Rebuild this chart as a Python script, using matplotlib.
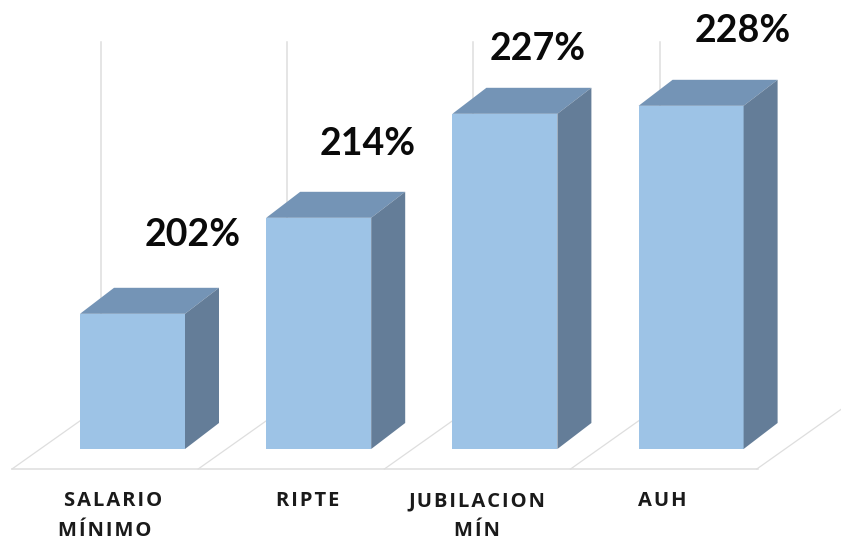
import matplotlib
matplotlib.use('Agg')
import matplotlib.pyplot as plt
from matplotlib.patches import Polygon

categories = ['SALARIO\nMÍNIMO', 'RIPTE', 'JUBILACION\nMÍN', 'AUH']
values = [202, 214, 227, 228]
value_labels = ['202%', '214%', '227%', '228%']

# layout, in image pixels
W, H = 841, 542
PX_PER_UNIT = 8.0
PX_PER_CAT = 186.2
FIRST_CENTER = 132.5
BASE_PX = 449
BASE = 185.1

label_pos = [(193, 235), (368, 144), (538, 49), (743, 31)]
tick_pos = [[(113, 501), (105, 531)], [(308, 501)], [(477, 501), (477, 531)], [(662, 501)]]

FRONT = '#9DC3E6'
TOP = '#7494B6'
SIDE = '#647D98'
GRID = '#DEDEDE'


def data_x(px):
    return (px - FIRST_CENTER) / PX_PER_CAT


def data_y(py):
    return BASE + (BASE_PX - py) / PX_PER_UNIT


fig = plt.figure(figsize=(W / 100, H / 100), dpi=100)
ax = fig.add_axes([0, 0, 1, 1])
ax.set_xlim(data_x(0), data_x(W))
ax.set_ylim(data_y(H), data_y(0))
ax.axis('off')

bar_w = 105 / PX_PER_CAT
dx = 34 / PX_PER_CAT
dy = 26 / PX_PER_UNIT

# floor and back wall lines
floor_y = data_y(469)
back_y = data_y(406)
ax.plot([data_x(12), data_x(758)], [floor_y, floor_y], color=GRID, lw=1.1, zorder=1)
for i in range(5):
    x0 = data_x(12) + i
    x1 = data_x(101) + i
    ax.plot([x0, x1], [floor_y, back_y], color=GRID, lw=0.9, zorder=1)
    if i < 4:
        ax.plot([x1, x1], [back_y, data_y(42)], color=GRID, lw=1.1, zorder=1)

# bars: front face from the axis, then the top and side faces
xs = list(range(len(values)))
ax.bar(xs, [v - BASE for v in values], bottom=BASE, width=bar_w, color=FRONT, zorder=3)
for x, v in zip(xs, values):
    l, r = x - bar_w / 2, x + bar_w / 2
    ax.add_patch(Polygon([(l, v), (r, v), (r + dx, v + dy), (l + dx, v + dy)],
                         closed=True, facecolor=TOP, edgecolor='none', zorder=3))
    ax.add_patch(Polygon([(r, BASE), (r + dx, BASE + dy), (r + dx, v + dy), (r, v)],
                         closed=True, facecolor=SIDE, edgecolor='none', zorder=3))

for txt, (px, py) in zip(value_labels, label_pos):
    ax.text(data_x(px), data_y(py), txt, ha='center', va='center', fontsize=27,
            fontweight='bold', family='Lato', color='#0A0A0A', zorder=5)

# category labels are letter spaced in the original, hair spaces do that here
for cat, places in zip(categories, tick_pos):
    for line, (px, py) in zip(cat.split('\n'), places):
        spaced = '\u200a'.join(line)
        ax.text(data_x(px), data_y(py), spaced, ha='center', va='center', fontsize=14.5,
                fontweight='bold', family=['Open Sans', 'DejaVu Sans'], color='#1A1A1A', zorder=5)

fig.savefig('out.png', dpi=100)
